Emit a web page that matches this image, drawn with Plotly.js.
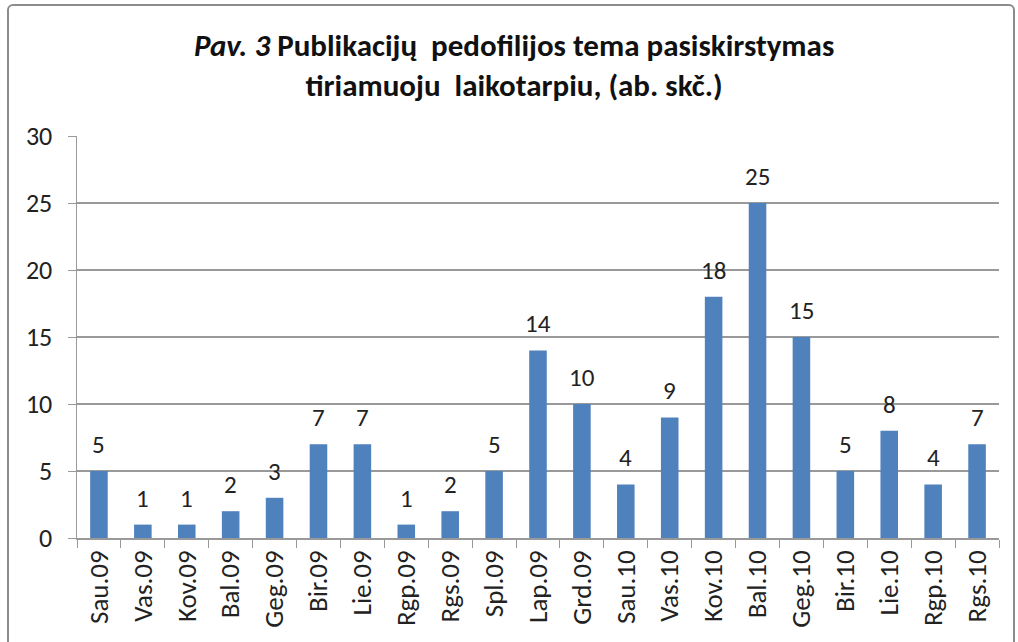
<!DOCTYPE html>
<html><head><meta charset="utf-8">
<script src="https://cdn.plot.ly/plotly-3.0.1.min.js"></script>
<style>
html,body{margin:0;padding:0;background:#fff;}
#wrap{position:relative;width:1018px;height:642px;overflow:hidden;}
#chart{position:absolute;left:0;top:0;width:1018px;height:642px;}
#frame{position:absolute;left:7px;top:4px;width:1004px;height:700px;border:2px solid #8c8c8c;border-radius:6px;pointer-events:none;}
</style></head>
<body><div id="wrap"><div id="chart"></div><div id="frame"></div></div>
<script>
const months = ["Sau.09","Vas.09","Kov.09","Bal.09","Geg.09","Bir.09","Lie.09","Rgp.09","Rgs.09","Spl.09","Lap.09","Grd.09","Sau.10","Vas.10","Kov.10","Bal.10","Geg.10","Bir.10","Lie.10","Rgp.10","Rgs.10"];
const counts = [5,1,1,2,3,7,7,1,2,5,14,10,4,9,18,25,15,5,8,4,7];
const yTicks = [0,5,10,15,20,25,30];

const font = "Carlito, Calibri, Lato, sans-serif";
const trace = {
  type: "bar", x: months, y: counts,
  marker: {color: "#4f81bd"}, hoverinfo: "none"
};
const labels = months.map((m, i) => ({
  x: m, y: counts[i], xref: "x", yref: "y", text: String(counts[i]),
  showarrow: false, yanchor: "bottom", yshift: 9,
  font: {family: font, size: 25, color: "#222"}
}));
const layout = {
  width: 1018, height: 642,
  margin: {l: 77, r: 19, t: 136, b: 104},
  paper_bgcolor: "#fff", plot_bgcolor: "#fff",
  bargap: 0.6, showlegend: false,
  annotations: labels,
  title: {text: "<i>Pav. 3</i> Publikacijų  pedofilijos tema pasiskirstymas<br>tiriamuoju  laikotarpiu, (ab. skč.)",
    font: {family: font, size: 31, color: "#111", weight: "bold"},
    x: 0.505, xanchor: "center", yref: "container", y: 0.913, yanchor: "middle"},
  xaxis: {type: "category", tickangle: -90, ticks: "outside", ticklen: 8, tickcolor: "#999",
    tickson: "boundaries", showline: true, linecolor: "#999", linewidth: 1.5,
    tickfont: {family: font, size: 27, color: "#222"}, showgrid: false, fixedrange: true},
  yaxis: {range: [0, 30], tickvals: yTicks, ticks: "outside", ticklen: 8, tickcolor: "#999",
    showline: true, linecolor: "#999", linewidth: 1.5, showgrid: true, gridcolor: "#999", gridwidth: 1.2,
    zeroline: false, ticklabelstandoff: 10,
    tickfont: {family: font, size: 26, color: "#222"}, fixedrange: true}
};
Plotly.newPlot("chart", [trace], layout, {staticPlot: true});
</script></body></html>
